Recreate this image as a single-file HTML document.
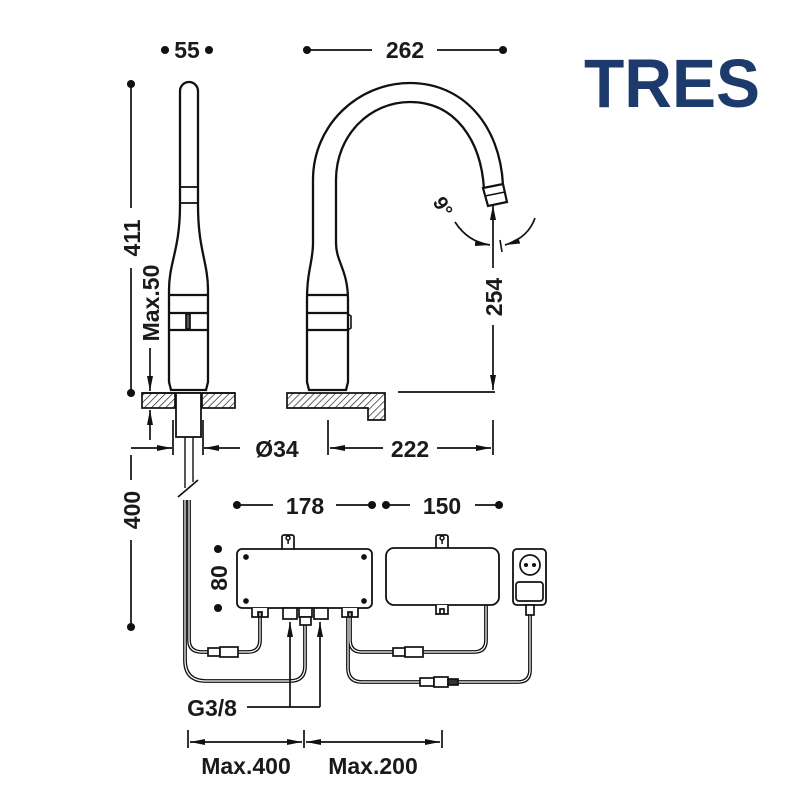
<!DOCTYPE html>
<html><head><style>
html,body{margin:0;padding:0;background:#fff;}
svg{display:block;}
text{font-family:"Liberation Sans",Arial,sans-serif;font-weight:bold;fill:#1a1a1a;}
</style></head><body>
<svg width="792" height="808" viewBox="0 0 792 808" xmlns="http://www.w3.org/2000/svg">
<defs>
<pattern id="h" width="5" height="5" patternUnits="userSpaceOnUse" patternTransform="rotate(45)">
<rect width="5" height="5" fill="#fff"/><line x1="0" y1="0" x2="0" y2="5" stroke="#222" stroke-width="1.4"/>
</pattern>
<marker id="av" viewBox="0 0 10 10" refX="10" refY="5" markerWidth="15" markerHeight="15" orient="auto-start-reverse" markerUnits="userSpaceOnUse">
<path d="M0,3 L10,5 L0,7 z" fill="#111"/></marker>
</defs>
<g stroke="#111" fill="none" stroke-width="1.7">
<circle cx="165" cy="50" r="3.2" fill="#111"/><circle cx="209" cy="50" r="3.2" fill="#111"/>
<circle cx="307" cy="50" r="3.2" fill="#111"/><circle cx="503" cy="50" r="3.2" fill="#111"/>
<line x1="307" y1="50" x2="372" y2="50"/><line x1="437" y1="50" x2="503" y2="50"/>
<circle cx="131" cy="84" r="3.2" fill="#111"/><circle cx="131" cy="393" r="3.2" fill="#111"/>
<line x1="131" y1="84" x2="131" y2="208"/><line x1="131" y1="268" x2="131" y2="393"/>
<line x1="150" y1="348" x2="150" y2="391" marker-end="url(#av)"/>
<line x1="150" y1="440" x2="150" y2="410" marker-end="url(#av)"/>
<path d="M180,205 L180,91 A9,9 0 0 1 198,91 L198,205 C198,250 208,262 208,290 L208,382 L206,390 L171,390 L169,382 L169,290 C169,262 180,250 180,205 Z" fill="#fff" stroke-width="2.3"/>
<rect x="180" y="187" width="18" height="16" stroke-width="1.8"/>
<line x1="169" y1="295" x2="208" y2="295" stroke-width="2.3"/>
<line x1="169" y1="313" x2="208" y2="313" stroke-width="2.3"/>
<line x1="169" y1="330" x2="208" y2="330" stroke-width="2.3"/>
<rect x="186" y="314" width="4" height="15" fill="#555"/>
<rect x="142" y="393" width="33" height="15" fill="url(#h)"/>
<rect x="202" y="393" width="33" height="15" fill="url(#h)"/>
<line x1="142" y1="393" x2="235" y2="393"/>
<rect x="176" y="393" width="25" height="44" fill="#fff" stroke-width="1.8"/>
<line x1="185" y1="437" x2="185" y2="490" stroke-width="1.4"/><line x1="193" y1="437" x2="193" y2="482" stroke-width="1.4"/>
<line x1="173" y1="420" x2="173" y2="455"/><line x1="203" y1="420" x2="203" y2="455"/>
<line x1="131" y1="448" x2="172" y2="448" marker-end="url(#av)"/>
<line x1="240" y1="448" x2="204" y2="448" marker-end="url(#av)"/>
<path d="M313,243 L313,180 C313,125 358,83 410,83 C463,83 500,125 503,185 L484,189 C481,140 455,102 410,102 C370,102 336,135 336,180 L336,243 C336,262 348,270 348,300 L348,382 L346,390 L309,390 L307,382 L307,300 C307,270 313,262 313,243 Z" fill="#fff" stroke-width="2.3"/>
<path d="M483,188 L503,184 L507,202 L488,206 Z" fill="#fff" stroke-width="2.2"/>
<line x1="485" y1="196" x2="505" y2="192" stroke-width="1.6"/>
<line x1="307" y1="295" x2="348" y2="295" stroke-width="2.3"/>
<line x1="307" y1="313" x2="348" y2="313" stroke-width="2.3"/>
<line x1="307" y1="330" x2="348" y2="330" stroke-width="2.3"/>
<path d="M348,314 L351,316 L351,328 L348,330" stroke-width="1.6"/>
<path d="M287,393 L385,393 L385,420 L368,420 L368,408 L287,408 Z" fill="url(#h)"/>
<line x1="398" y1="392" x2="495" y2="392"/>
<line x1="493" y1="325" x2="493" y2="390" marker-end="url(#av)"/>
<line x1="493" y1="268" x2="493" y2="205" marker-end="url(#av)"/>
<line x1="500" y1="240" x2="502" y2="252" stroke-width="1.6"/>
<path d="M455,222 Q468,242 490,245" marker-end="url(#av)"/>
<path d="M535,218 Q528,238 505,245" marker-end="url(#av)"/>
<line x1="328" y1="420" x2="328" y2="455"/><line x1="493" y1="420" x2="493" y2="455"/>
<line x1="383" y1="448" x2="330" y2="448" marker-end="url(#av)"/>
<line x1="437" y1="448" x2="491" y2="448" marker-end="url(#av)"/>
<line x1="131" y1="455" x2="131" y2="480"/><line x1="131" y1="540" x2="131" y2="627"/>
<circle cx="131" cy="627" r="3.2" fill="#111"/>
<circle cx="237" cy="505" r="3.2" fill="#111"/><circle cx="372" cy="505" r="3.2" fill="#111"/>
<circle cx="386" cy="505" r="3.2" fill="#111"/><circle cx="499" cy="505" r="3.2" fill="#111"/>
<line x1="237" y1="505" x2="273" y2="505"/><line x1="336" y1="505" x2="372" y2="505"/>
<line x1="386" y1="505" x2="410" y2="505"/><line x1="475" y1="505" x2="499" y2="505"/>
<circle cx="218" cy="549" r="3.2" fill="#111"/><circle cx="218" cy="608" r="3.2" fill="#111"/>
<g stroke="#111" stroke-width="3.8">
<path d="M189,500 L189,640 Q189,652 202,652 L248,652 Q260,652 260,640 L260,612"/>
<path d="M185,500 L185,660 Q185,681 206,681 L290,681 Q305,681 305,666 L305,625"/>
<path d="M350,612 L350,640 Q350,652 362,652 L474,652 Q486,652 486,640 L486,605"/>
<path d="M348,612 L348,668 Q348,682 362,682 L518,682 Q530,682 530,670 L530,615"/>
</g>
<g stroke="#fff" stroke-width="1.2">
<path d="M189,500 L189,640 Q189,652 202,652 L248,652 Q260,652 260,640 L260,612"/>
<path d="M185,500 L185,660 Q185,681 206,681 L290,681 Q305,681 305,666 L305,625"/>
<path d="M350,612 L350,640 Q350,652 362,652 L474,652 Q486,652 486,640 L486,605"/>
<path d="M348,612 L348,668 Q348,682 362,682 L518,682 Q530,682 530,670 L530,615"/>
</g>
<rect x="180" y="488" width="16" height="8" fill="#fff" stroke="none"/>
<line x1="178" y1="497" x2="198" y2="480"/>
<rect x="208" y="648" width="12" height="8" fill="#fff"/><rect x="220" y="647" width="18" height="10" fill="#fff"/>
<rect x="393" y="648" width="12" height="8" fill="#fff"/><rect x="405" y="647" width="18" height="10" fill="#fff"/>
<rect x="420" y="678" width="14" height="8" fill="#fff"/><rect x="434" y="677" width="14" height="10" fill="#fff"/><rect x="448" y="679" width="10" height="6" fill="#333"/>
<rect x="282" y="535" width="12" height="15" rx="2" fill="#fff"/>
<rect x="237" y="549" width="135" height="59" rx="5" fill="#fff" stroke-width="1.8"/>
<path d="M288,540 a2,2 0 1 1 0.1,0 l0,4" stroke-width="1.5"/>
<circle cx="246" cy="557" r="2" fill="#111"/><circle cx="364" cy="557" r="2" fill="#111"/>
<circle cx="246" cy="601" r="2" fill="#111"/><circle cx="364" cy="601" r="2" fill="#111"/>
<path d="M252,608 L252,617 L268,617 L268,608 M258,617 L258,612 L262,612 L262,617" fill="#fff"/>
<path d="M342,608 L342,617 L358,617 L358,608 M348,617 L348,612 L352,612 L352,617" fill="#fff"/>
<rect x="283" y="608" width="14" height="11" fill="#fff"/>
<rect x="299" y="608" width="13" height="9" fill="#fff"/><rect x="300" y="617" width="11" height="8" fill="#fff"/>
<rect x="314" y="608" width="14" height="11" fill="#fff"/>
<rect x="436" y="535" width="12" height="15" rx="2" fill="#fff"/>
<path d="M442,540 a2,2 0 1 1 0.1,0 l0,4" stroke-width="1.5"/>
<rect x="386" y="548" width="113" height="57" rx="8" fill="#fff" stroke-width="1.8"/>
<path d="M436,605 L436,614 L448,614 L448,605 M440,614 L440,609 L444,609 L444,614" fill="#fff"/>
<rect x="513" y="549" width="33" height="56" rx="4" fill="#fff" stroke-width="1.8"/>
<circle cx="530" cy="565" r="10"/><circle cx="526" cy="565" r="1.2" fill="#111"/><circle cx="534" cy="565" r="1.2" fill="#111"/>
<rect x="516" y="582" width="27" height="19" rx="3"/>
<rect x="526" y="605" width="8" height="10" fill="#fff"/>
<line x1="247" y1="707" x2="320" y2="707"/>
<line x1="290" y1="707" x2="290" y2="622" marker-end="url(#av)"/>
<line x1="320" y1="707" x2="320" y2="622" marker-end="url(#av)"/>
<line x1="188" y1="730" x2="188" y2="748"/><line x1="304" y1="730" x2="304" y2="748"/><line x1="442" y1="730" x2="442" y2="748"/>
<line x1="246" y1="742" x2="190" y2="742" marker-end="url(#av)"/>
<line x1="246" y1="742" x2="302" y2="742" marker-end="url(#av)"/>
<line x1="373" y1="742" x2="306" y2="742" marker-end="url(#av)"/>
<line x1="373" y1="742" x2="440" y2="742" marker-end="url(#av)"/>
</g>
<text x="187" y="58" font-size="23" text-anchor="middle">55</text>
<text x="405" y="58" font-size="23" text-anchor="middle">262</text>
<text transform="translate(140,238) rotate(-90)" font-size="23" text-anchor="middle">411</text>
<text transform="translate(159,303) rotate(-90)" font-size="23" text-anchor="middle">Max.50</text>
<text transform="translate(502,297) rotate(-90)" font-size="23" text-anchor="middle">254</text>
<text transform="translate(437,210) rotate(60)" font-size="20" text-anchor="middle">9°</text>
<text x="277" y="457" font-size="23" text-anchor="middle">Ø34</text>
<text x="410" y="457" font-size="23" text-anchor="middle">222</text>
<text transform="translate(140,510) rotate(-90)" font-size="23" text-anchor="middle">400</text>
<text x="305" y="514" font-size="23" text-anchor="middle">178</text>
<text x="442" y="514" font-size="23" text-anchor="middle">150</text>
<text transform="translate(227,578) rotate(-90)" font-size="23" text-anchor="middle">80</text>
<text x="212" y="716" font-size="23" text-anchor="middle">G3/8</text>
<text x="246" y="774" font-size="23" text-anchor="middle">Max.400</text>
<text x="373" y="774" font-size="23" text-anchor="middle">Max.200</text>
<text x="584" y="107" font-size="69" textLength="176" lengthAdjust="spacingAndGlyphs" style="fill:#1c3a6c;font-weight:bold">TRES</text>
</svg>
</body></html>
